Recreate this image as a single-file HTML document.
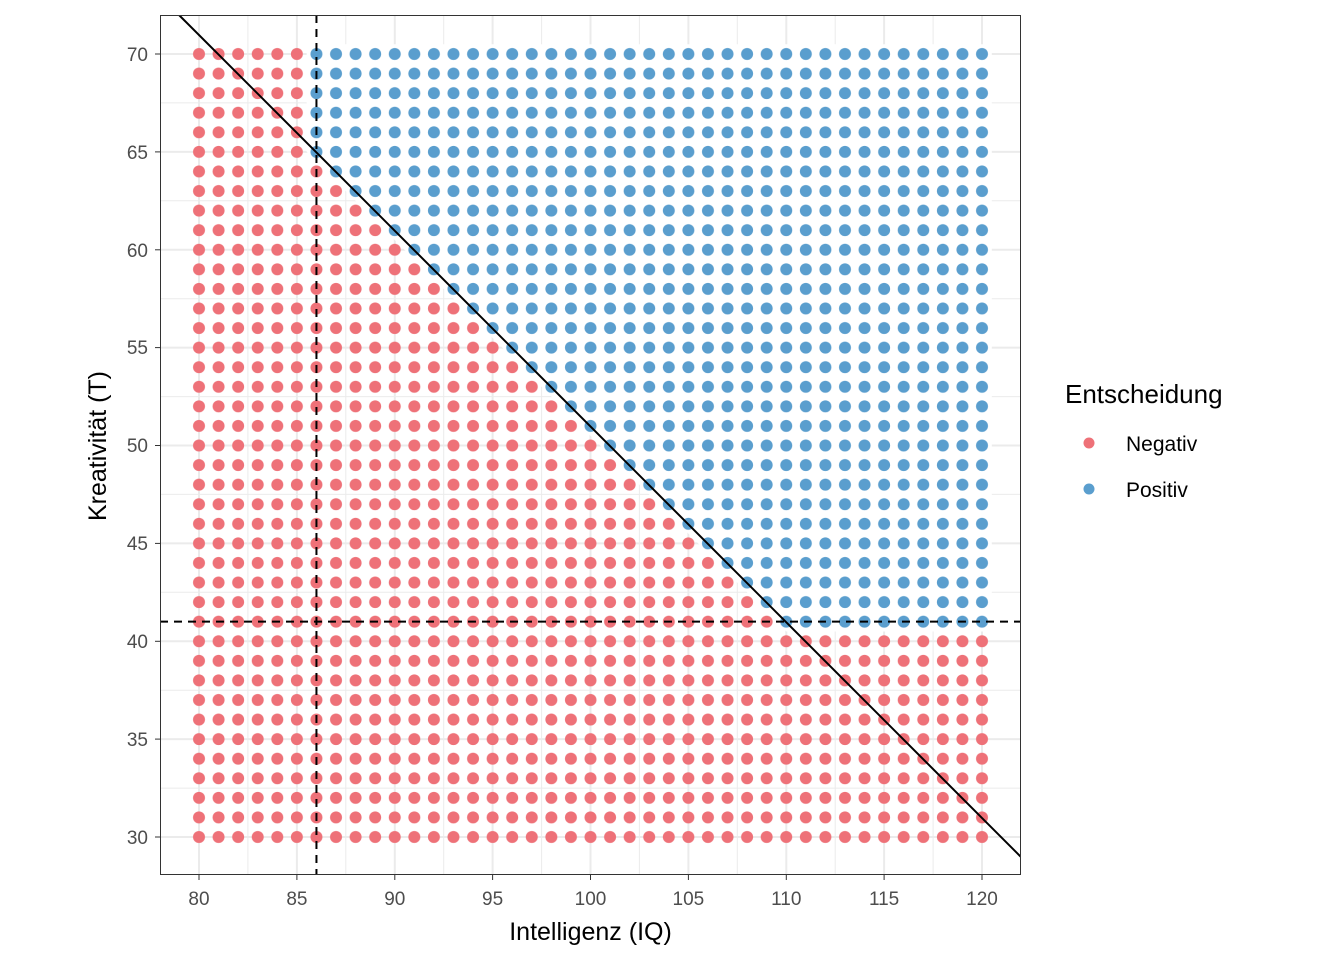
<!DOCTYPE html>
<html><head><meta charset="utf-8"><style>body{margin:0;background:#fff}svg{display:block}text{font-family:"Liberation Sans",Arial,sans-serif}</style></head>
<body>
<svg width="1344" height="960" viewBox="0 0 1344 960" xmlns="http://www.w3.org/2000/svg">
<defs>
<pattern id="pr" patternUnits="userSpaceOnUse" x="189.2125" y="44.2125" width="19.575" height="19.575"><circle cx="9.7875" cy="9.7875" r="6" fill="#EE7178"/></pattern>
<pattern id="pb" patternUnits="userSpaceOnUse" x="189.2125" y="44.2125" width="19.575" height="19.575"><circle cx="9.7875" cy="9.7875" r="6" fill="#5A9ECE"/></pattern>
<clipPath id="cp"><rect x="160" y="15" width="861" height="860"/></clipPath>
</defs>
<rect x="160" y="15" width="861" height="860" fill="#fff"/>
<g stroke="#EBEBEB" stroke-width="1">
<line x1="247.9" y1="15" x2="247.9" y2="875"/><line x1="345.8" y1="15" x2="345.8" y2="875"/><line x1="443.7" y1="15" x2="443.7" y2="875"/><line x1="541.6" y1="15" x2="541.6" y2="875"/><line x1="639.4" y1="15" x2="639.4" y2="875"/><line x1="737.3" y1="15" x2="737.3" y2="875"/><line x1="835.2" y1="15" x2="835.2" y2="875"/><line x1="933.1" y1="15" x2="933.1" y2="875"/>
<line x1="160" y1="102.9" x2="1021" y2="102.9"/><line x1="160" y1="200.8" x2="1021" y2="200.8"/><line x1="160" y1="298.7" x2="1021" y2="298.7"/><line x1="160" y1="396.6" x2="1021" y2="396.6"/><line x1="160" y1="494.4" x2="1021" y2="494.4"/><line x1="160" y1="592.3" x2="1021" y2="592.3"/><line x1="160" y1="690.2" x2="1021" y2="690.2"/><line x1="160" y1="788.1" x2="1021" y2="788.1"/>
</g>
<g stroke="#EBEBEB" stroke-width="2">
<line x1="199" y1="15" x2="199" y2="875"/><line x1="296.9" y1="15" x2="296.9" y2="875"/><line x1="394.8" y1="15" x2="394.8" y2="875"/><line x1="492.6" y1="15" x2="492.6" y2="875"/><line x1="590.5" y1="15" x2="590.5" y2="875"/><line x1="688.4" y1="15" x2="688.4" y2="875"/><line x1="786.3" y1="15" x2="786.3" y2="875"/><line x1="884.1" y1="15" x2="884.1" y2="875"/><line x1="982" y1="15" x2="982" y2="875"/>
<line x1="160" y1="54" x2="1021" y2="54"/><line x1="160" y1="151.9" x2="1021" y2="151.9"/><line x1="160" y1="249.8" x2="1021" y2="249.8"/><line x1="160" y1="347.6" x2="1021" y2="347.6"/><line x1="160" y1="445.5" x2="1021" y2="445.5"/><line x1="160" y1="543.4" x2="1021" y2="543.4"/><line x1="160" y1="641.3" x2="1021" y2="641.3"/><line x1="160" y1="739.1" x2="1021" y2="739.1"/><line x1="160" y1="837" x2="1021" y2="837"/>
</g>
<rect x="189.2125" y="44.2125" width="802.575" height="802.575" fill="url(#pr)"/>
<polygon points="306.66,44.21 991.79,44.21 991.79,631.46 786.25,631.46 306.66,151.88" fill="#fff"/>
<polygon points="306.66,44.21 991.79,44.21 991.79,631.46 786.25,631.46 306.66,151.88" fill="url(#pb)"/>
<g clip-path="url(#cp)" stroke="#000" stroke-width="2">
<line x1="316.45" y1="15" x2="316.45" y2="875" stroke-dasharray="8,6"/>
<line x1="160" y1="621.6" x2="1021" y2="621.6" stroke-dasharray="8,6"/>
<line x1="179" y1="15" x2="1021" y2="857"/>
</g>
<rect x="160.5" y="15.5" width="860" height="859" fill="none" stroke="#333" stroke-width="1"/>
<g stroke="#333" stroke-width="1">
<line x1="199" y1="875" x2="199" y2="880"/><line x1="296.9" y1="875" x2="296.9" y2="880"/><line x1="394.8" y1="875" x2="394.8" y2="880"/><line x1="492.6" y1="875" x2="492.6" y2="880"/><line x1="590.5" y1="875" x2="590.5" y2="880"/><line x1="688.4" y1="875" x2="688.4" y2="880"/><line x1="786.3" y1="875" x2="786.3" y2="880"/><line x1="884.1" y1="875" x2="884.1" y2="880"/><line x1="982" y1="875" x2="982" y2="880"/>
<line x1="155" y1="54" x2="160" y2="54"/><line x1="155" y1="151.9" x2="160" y2="151.9"/><line x1="155" y1="249.8" x2="160" y2="249.8"/><line x1="155" y1="347.6" x2="160" y2="347.6"/><line x1="155" y1="445.5" x2="160" y2="445.5"/><line x1="155" y1="543.4" x2="160" y2="543.4"/><line x1="155" y1="641.3" x2="160" y2="641.3"/><line x1="155" y1="739.1" x2="160" y2="739.1"/><line x1="155" y1="837" x2="160" y2="837"/>
</g>
<g font-size="19" fill="#4D4D4D" text-anchor="middle">
<text x="199" y="905">80</text><text x="296.9" y="905">85</text><text x="394.8" y="905">90</text><text x="492.6" y="905">95</text><text x="590.5" y="905">100</text><text x="688.4" y="905">105</text><text x="786.3" y="905">110</text><text x="884.1" y="905">115</text><text x="982" y="905">120</text>
</g>
<g font-size="19" fill="#4D4D4D" text-anchor="end">
<text x="148" y="61">70</text><text x="148" y="159">65</text><text x="148" y="257">60</text><text x="148" y="354">55</text><text x="148" y="452">50</text><text x="148" y="550">45</text><text x="148" y="648">40</text><text x="148" y="746">35</text><text x="148" y="844">30</text>
</g>
<text x="590.5" y="940" font-size="25" text-anchor="middle" fill="#000">Intelligenz (IQ)</text>
<text transform="translate(106,446) rotate(-90)" font-size="25" text-anchor="middle" fill="#000">Kreativität (T)</text>
<text x="1065" y="403" font-size="26" fill="#000">Entscheidung</text>
<circle cx="1089" cy="443" r="5.5" fill="#EE7178"/>
<circle cx="1089" cy="489" r="5.5" fill="#5A9ECE"/>
<text x="1126" y="451" font-size="21" fill="#000">Negativ</text>
<text x="1126" y="497" font-size="21" fill="#000">Positiv</text>
</svg>
</body></html>
